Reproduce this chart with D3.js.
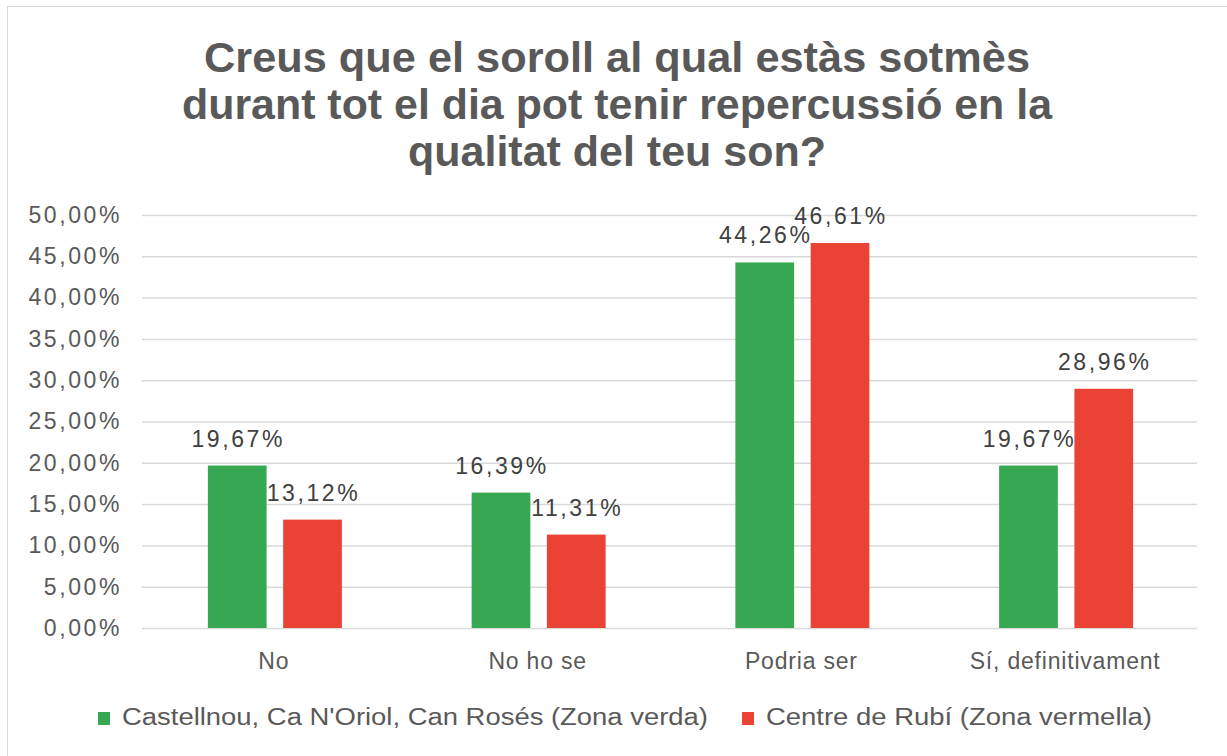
<!DOCTYPE html>
<html>
<head>
<meta charset="utf-8">
<script src="https://cdn.jsdelivr.net/npm/d3@7"></script>
<style>
  body { margin: 0; background: #fff; }
  text { font-family: "Liberation Sans", Arial, sans-serif; }
</style>
</head>
<body>
<svg id="chart" width="1227" height="756"></svg>
<script>
var categories = ["No", "No ho se", "Podria ser", "Sí, definitivament"];
var seriesNames = ["Castellnou, Ca N'Oriol, Can Rosés (Zona verda)", "Centre de Rubí (Zona vermella)"];
var greenValues = [19.67, 16.39, 44.26, 19.67];
var redValues = [13.12, 11.31, 46.61, 28.96];
var yTicks = [0, 5, 10, 15, 20, 25, 30, 35, 40, 45, 50];
var titleLines = ["Creus que el soroll al qual estàs sotmès", "durant tot el dia pot tenir repercussió en la", "qualitat del teu son?"];

var colors = ["#36a852", "#ea4335"];
var textColor = "#595959";

var svg = d3.select("#chart");

// frame
svg.append("rect")
    .attr("x", 7.5).attr("y", 6.5)
    .attr("width", 1230).attr("height", 760)
    .attr("fill", "#fff")
    .attr("stroke", "#d9d9d9");

// title (squeezed like the original)
var titleWidths = [826, 870, 418];
svg.selectAll(".title")
    .data(titleLines)
    .enter().append("text")
    .attr("class", "title")
    .attr("x", 617)
    .attr("y", function (d, i) { return 72 + i * 47; })
    .attr("text-anchor", "middle")
    .attr("textLength", function (d, i) { return titleWidths[i]; })
    .attr("lengthAdjust", "spacingAndGlyphs")
    .style("font-family", "'Liberation Sans Narrow', 'Liberation Sans', Arial, sans-serif")
    .style("font-size", "42px")
    .style("font-weight", "bold")
    .style("fill", textColor)
    .text(function (d) { return d; });

var plotLeft = 142, plotRight = 1197, plotTop = 215, plotBottom = 628;

var x0 = d3.scaleBand()
    .domain(categories)
    .range([plotLeft, plotRight]);

var x1 = d3.scaleBand()
    .domain([0, 1])
    .range([x0.bandwidth() / 2 - 66, x0.bandwidth() / 2 + 68])
    .paddingInner(0.22);

var y = d3.scaleLinear()
    .domain([0, 50])
    .range([plotBottom, plotTop]);

function pct(d) { return d3.format(".2f")(d).replace(".", ",") + "%"; }

/* y axis with gridlines */
var yAxis = svg.append("g")
    .attr("transform", "translate(" + plotLeft + ",0)")
    .call(d3.axisLeft(y)
        .tickValues(yTicks)
        .tickSize(-(plotRight - plotLeft))
        .tickPadding(20)
        .tickFormat(pct));

yAxis.select(".domain").remove();
yAxis.selectAll(".tick line")
    .attr("stroke", "#d9d9d9")
    .attr("stroke-width", 1.5);
yAxis.selectAll(".tick text")
    .style("font-size", "23px")
    .style("letter-spacing", "2.6px")
    .style("fill", textColor);

/* bars */
var rows = categories.map(function (c, i) {
    return { cat: c, vals: [greenValues[i], redValues[i]] };
});

var groups = svg.selectAll(".grp")
    .data(rows)
    .enter().append("g")
    .attr("class", "grp")
    .attr("transform", function (d) { return "translate(" + x0(d.cat) + ",0)"; });

groups.selectAll("rect")
    .data(function (d) { return d.vals; })
    .enter().append("rect")
    .attr("x", function (d, i) { return x1(i); })
    .attr("y", function (d) { return y(d); })
    .attr("width", x1.bandwidth())
    .attr("height", function (d) { return plotBottom - y(d); })
    .attr("fill", function (d, i) { return colors[i]; });

groups.selectAll(".lbl")
    .data(function (d) { return d.vals; })
    .enter().append("text")
    .attr("class", "lbl")
    .attr("x", function (d, i) { return x1(i) + x1.bandwidth() / 2 + 1; })
    .attr("y", function (d) { return y(d) - 19; })
    .attr("text-anchor", "middle")
    .style("font-size", "23px")
    .style("letter-spacing", "2.6px")
    .style("fill", "#404040")
    .text(pct);

/* x axis labels */
svg.selectAll(".cat")
    .data(categories)
    .enter().append("text")
    .attr("class", "cat")
    .attr("x", function (d) { return x0(d) + x0.bandwidth() / 2; })
    .attr("y", 669)
    .attr("text-anchor", "middle")
    .style("font-size", "23px")
    .style("letter-spacing", "0.8px")
    .style("fill", textColor)
    .text(function (d) { return d; });

/* legend */
var legendX = [98, 742];
var legendW = [586, 386];
var legend = svg.selectAll(".leg")
    .data(seriesNames)
    .enter().append("g")
    .attr("class", "leg")
    .attr("transform", function (d, i) { return "translate(" + legendX[i] + ",712)"; });

legend.append("rect")
    .attr("width", 12).attr("height", 13)
    .attr("fill", function (d, i) { return colors[i]; });

legend.append("text")
    .attr("x", 24)
    .attr("y", 13)
    .attr("textLength", function (d, i) { return legendW[i]; })
    .attr("lengthAdjust", "spacingAndGlyphs")
    .style("font-size", "23px")
    .style("fill", textColor)
    .text(function (d) { return d; });
</script>
</body>
</html>
